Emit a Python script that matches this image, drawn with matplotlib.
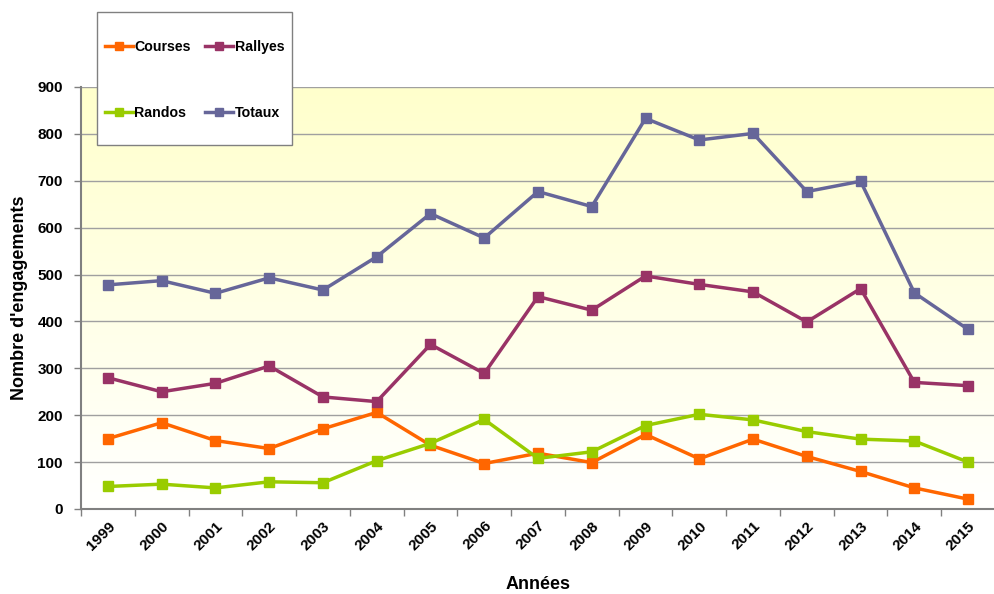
import matplotlib
matplotlib.use("Agg")
import matplotlib.pyplot as plt
import numpy as np
from matplotlib.patches import Rectangle

years = [str(y) for y in range(1999, 2016)]
courses = [150, 184, 146, 129, 171, 206, 136, 97, 119, 99, 159, 107, 149, 112, 80, 45, 21]
rallyes = [280, 250, 268, 305, 239, 229, 351, 289, 453, 424, 497, 479, 463, 399, 470, 270, 263]
randos = [48, 53, 45, 58, 56, 103, 140, 191, 108, 122, 178, 202, 190, 165, 149, 145, 100]
totaux = [478, 487, 460, 493, 467, 538, 630, 578, 677, 645, 833, 787, 801, 677, 699, 461, 383]

series = [("Courses", courses, "#FF6600"), ("Randos", randos, "#99CC00"),
          ("Rallyes", rallyes, "#993366"), ("Totaux", totaux, "#666699")]

plt.rcParams['font.family'] = ['Liberation Sans', 'DejaVu Sans']
plt.rcParams['font.weight'] = 'bold'

W, H = 995, 594
fig = plt.figure(figsize=(W/100, H/100), dpi=100)
L, R, T, B = 81, 995, 87, 509
ax = fig.add_axes([L/W, 1 - B/H, (R-L)/W, (B-T)/H])

x = np.arange(len(years))
ax.set_xlim(-0.5, len(years) - 0.5)
ax.set_ylim(0, 900)

# gradient background
grad = np.linspace(0, 1, 256).reshape(-1, 1)
top = np.array([1.0, 1.0, 0.80])
bot = np.array([1.0, 1.0, 1.0])
img = (bot + (top - bot) * grad).reshape(256, 1, 3)
ax.imshow(img, extent=[-0.5, len(years) - 0.5, 0, 900], origin='lower',
          aspect='auto', zorder=0)

ax.set_yticks(np.arange(0, 901, 100))
ax.yaxis.grid(True, color='#A0A0A0', linewidth=1.0, zorder=1)
ax.set_axisbelow(True)

handles = {}
for name, vals, col in series:
    ln, = ax.plot(x, vals, color=col, linewidth=2.5, marker='s', markersize=6.5,
                  zorder=3, label=name)
    handles[name] = ln

for s in ['top', 'right']:
    ax.spines[s].set_visible(False)
for s in ['left', 'bottom']:
    ax.spines[s].set_color('#808080')
    ax.spines[s].set_linewidth(1.5)

ax.set_xticks(x)
ax.set_xticklabels(years, rotation=45, ha='right', rotation_mode='anchor',
                   fontsize=11, fontweight='bold')
ax.tick_params(axis='x', which='major', length=0, pad=7)
ax.set_xticks(np.arange(-0.5, len(years), 1), minor=True)
ax.tick_params(axis='x', which='minor', length=5, color='#808080', width=1)
ax.tick_params(axis='y', length=5, color='#808080', width=1, labelsize=11, pad=8)
for lab in ax.get_yticklabels():
    lab.set_fontweight('bold')

ax.set_xlabel("Années", fontsize=13, fontweight='bold', labelpad=17)
ax.set_ylabel("Nombre d'engagements", fontsize=13, fontweight='bold', labelpad=7)

# legend box
fig.patches.append(Rectangle((97/W, 1 - 145/H), (292-97)/W, (145-12)/H,
                             transform=fig.transFigure, facecolor='white',
                             edgecolor='#808080', linewidth=1.0, zorder=5))
order = ["Courses", "Randos", "Rallyes", "Totaux"]
leg = fig.legend([handles[n] for n in order], order, ncol=2, loc='upper left',
                 bbox_to_anchor=(92/W, 1 - 27/H), frameon=False,
                 prop={'weight': 'bold', 'size': 10.2}, handlelength=2.0,
                 handletextpad=0.1, columnspacing=1.0, labelspacing=3.7,
                 markerscale=0.8)
leg.set_zorder(6)

fig.savefig("out.png", dpi=100)
